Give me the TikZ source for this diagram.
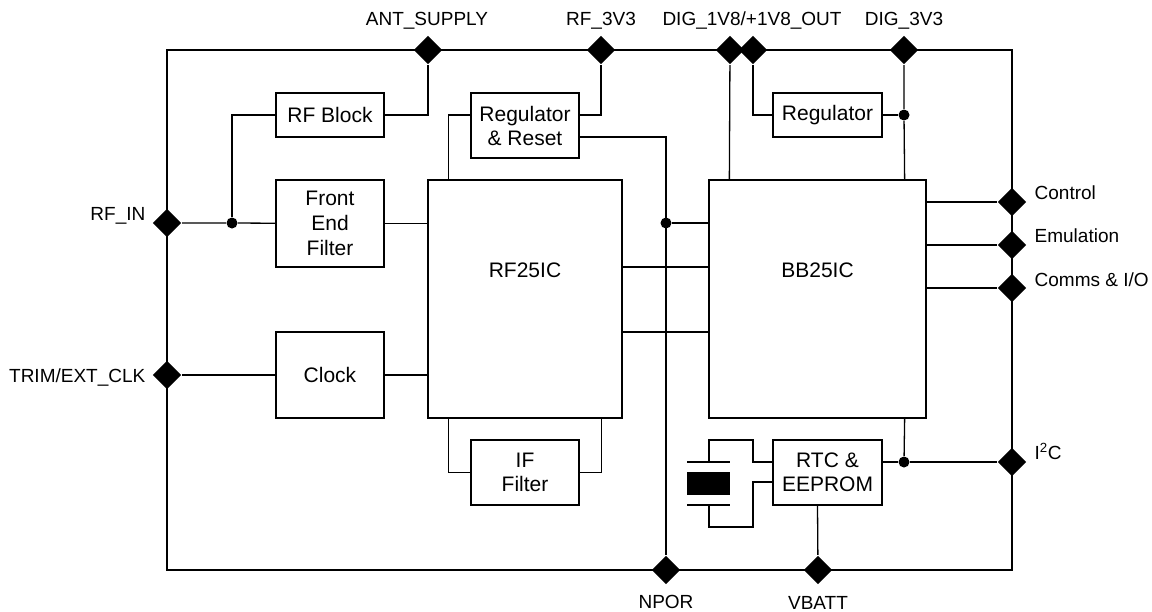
\documentclass[tikz,border=0pt]{standalone}
\usepackage{fontspec}
\setmainfont{Liberation Sans}
\usetikzlibrary{shapes.geometric}

\tikzset{
    blk/.style={draw, line width=1.3pt, align=center, inner sep=0pt, font=\fontsize{21}{24}\selectfont},
    pin/.style={diamond, fill=black, inner sep=0pt, minimum size=29pt},
    dot/.style={circle, fill=black, inner sep=0pt, minimum size=11pt},
    lbl/.style={font=\fontsize{19}{22}\selectfont, inner sep=0pt}
}

\begin{document}
\begin{tikzpicture}[x=1pt, y=-1pt, line width=1.3pt]
            \useasboundingbox (0,0) rectangle (1152,611);
            \draw (167,50) rectangle (1012,570);

            % blocks
            \node[blk, minimum width=108pt, minimum height=44pt] (rfblk) at (330,115) {RF Block};
            \node[blk, minimum width=108pt, minimum height=87pt, font=\fontsize{21}{25}\selectfont] (fef) at (330,223.5) {Front\\End\\Filter};
            \node[blk, minimum width=108pt, minimum height=86pt] (clk) at (330,375) {Clock};
            \node[blk, minimum width=108pt, minimum height=65pt] (regrst) at (525,125.5) {Regulator\\\& Reset};
            \node[blk, minimum width=194pt, minimum height=238pt] (rfic) at (525,299) {};
            \node[blk, minimum width=108pt, minimum height=65pt] (iff) at (525,472.5) {IF\\Filter};
            \node[blk, minimum width=217pt, minimum height=238pt] (bbic) at (817.5,299) {};
            \node[blk, minimum width=109pt, minimum height=44pt] (reg) at (827.5,115) {Regulator};
            \node[blk, minimum width=109pt, minimum height=65pt] (rtc) at (827.5,472.5) {RTC \&\\EEPROM};
            \node[font=\fontsize{21}{24}\selectfont] at ([yshift=29pt]rfic.center) {RF25IC};
            \node[font=\fontsize{21}{24}\selectfont] at ([yshift=29pt]bbic.center) {BB25IC};

            % pins
            \foreach \n/\x/\y in {ant/428/50, rf3/601/50, dig18/730/50, out18/753/50, dig33/904/50,
                    rfin/167/223, trim/167/375, ctrl/1012/202, emu/1012/245, comms/1012/288,
                    iic/1012/462, npor/666/570, vbatt/818/570} {
                    \node[pin] (\n) at (\x,\y) {};
                }

            % junctions
            \node[dot] (jin) at (232,223) {};
            \node[dot] (jrst) at (666,223) {};
            \node[dot] (jreg) at (904,115) {};
            \node[dot] (jrtc) at (904,462) {};

            % pin labels
            \node[lbl, anchor=base] at (427,25) {ANT\_SUPPLY};
            \node[lbl, anchor=base] at (601,25) {RF\_3V3};
            \node[lbl, anchor=base] at (752,25) {DIG\_1V8/+1V8\_OUT};
            \node[lbl, anchor=base] at (904,25) {DIG\_3V3};
            \node[lbl, anchor=base east] at (146,220) {RF\_IN};
            \node[lbl, anchor=base east] at (146,382) {TRIM/EXT\_CLK};
            \node[lbl, anchor=base west] at (1034,199) {Control};
            \node[lbl, anchor=base west] at (1034,242) {Emulation};
            \node[lbl, anchor=base west] at (1034,286) {Comms \& I/O};
            \node[lbl, anchor=base west] at (1034,459) {I\textsuperscript{2}C};
            \node[lbl, anchor=base] at (666,608) {NPOR};
            \node[lbl, anchor=base] at (818,609) {VBATT};

            % RF side
            \draw (rfblk.east) -| (ant);
            \draw (rfblk.west) -| (jin);
            \draw (rfin) -- (jin) -- (fef);
            \draw (fef.east) -- (fef.east -| rfic.west);
            \draw (trim) -- (clk);
            \draw (clk.east) -- (clk.east -| rfic.west);
            \draw ([yshift=10.5pt]regrst.west) -| ([xshift=21pt]rfic.north west);
            \draw ([yshift=10.5pt]regrst.east) -| (rf3);
            \draw ([yshift=-11.5pt]regrst.east) -| (npor);
            \draw ([xshift=21pt]rfic.south west) |- (iff.west);
            \draw ([xshift=-21pt]rfic.south east) |- (iff.east);

            % between the two ICs
            \draw (jrst) -- (jrst -| bbic.west);
            \draw ([yshift=32pt]rfic.east) -- ([yshift=32pt]rfic.east -| bbic.west);
            \draw ([yshift=-33pt]rfic.east) -- ([yshift=-33pt]rfic.east -| bbic.west);

            % BB side
            \draw ([xshift=21pt]bbic.north west) -- (dig18);
            \draw ([xshift=-22pt]bbic.north east) -- (jreg) -- (dig33);
            \draw (reg.east) -- (jreg);
            \draw (reg.west) -| (out18);
            \foreach \p in {ctrl, emu, comms} {
                    \draw (bbic.east |- \p) -- (\p);
                }
            \draw ([xshift=-22pt]bbic.south east) -- (jrtc);
            \draw ([yshift=10.5pt]rtc.east) -- (jrtc) -- (iic);
            \draw ([xshift=-10pt]rtc.south) -- (vbatt);

            % crystal
            \coordinate (xtop) at (709,462);
            \coordinate (xbot) at (709,505);
            \draw ([yshift=10.5pt]rtc.west) -| (753,440) -| (xtop);
            \draw ([yshift=-9.5pt]rtc.west) -| (753,527) -| (xbot);
            \draw ([xshift=-22pt]xtop) -- ([xshift=21pt]xtop);
            \draw ([xshift=-22pt]xbot) -- ([xshift=21pt]xbot);
            \fill (687,472) rectangle (730,495);
\end{tikzpicture}
\end{document}
